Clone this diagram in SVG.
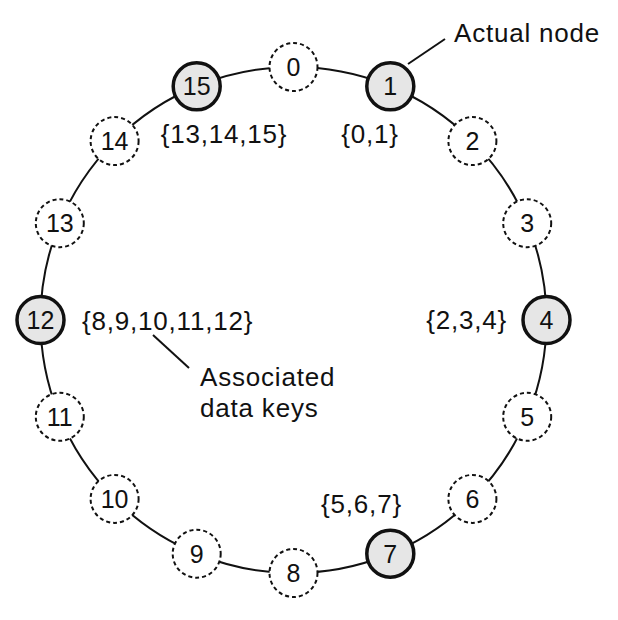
<svg xmlns="http://www.w3.org/2000/svg" width="618" height="620" viewBox="0 0 618 620">
<style>
.ring{fill:none;stroke:#111;stroke-width:2}
.lead{fill:none;stroke:#111;stroke-width:2}
.virt{fill:#fff;stroke:#111;stroke-width:2;stroke-dasharray:4 3}
.act{fill:#e6e6e6;stroke:#111;stroke-width:3.5}
.nl{font-family:"Liberation Sans",Arial,sans-serif;font-size:25px;fill:#111;text-anchor:middle}
.tl{font-family:"Liberation Sans",Arial,sans-serif;font-size:26px;fill:#111;letter-spacing:0.8px}
</style>
<rect width="618" height="620" fill="#fff"/>
<g id="connectors">
<circle class="ring" cx="293.5" cy="320" r="253"/>
<line class="lead" x1="408" y1="64" x2="445" y2="39"/>
<line class="lead" x1="153" y1="335" x2="189" y2="368"/>
</g>
<g id="node0"><circle class="virt" cx="293.5" cy="67" r="24"/><text class="nl" x="293.5" y="76">0</text></g>
<g id="node1"><circle class="act" cx="390.3" cy="86.3" r="23.5"/><text class="nl" x="390.3" y="95.3">1</text></g>
<g id="node2"><circle class="virt" cx="472.4" cy="141.1" r="24"/><text class="nl" x="472.4" y="150.1">2</text></g>
<g id="node3"><circle class="virt" cx="527.2" cy="223.2" r="24"/><text class="nl" x="527.2" y="232.2">3</text></g>
<g id="node4"><circle class="act" cx="546.5" cy="320" r="23.5"/><text class="nl" x="546.5" y="329">4</text></g>
<g id="node5"><circle class="virt" cx="527.2" cy="416.8" r="24"/><text class="nl" x="527.2" y="425.8">5</text></g>
<g id="node6"><circle class="virt" cx="472.4" cy="498.9" r="24"/><text class="nl" x="472.4" y="507.9">6</text></g>
<g id="node7"><circle class="act" cx="390.3" cy="553.7" r="23.5"/><text class="nl" x="390.3" y="562.7">7</text></g>
<g id="node8"><circle class="virt" cx="293.5" cy="573" r="24"/><text class="nl" x="293.5" y="582">8</text></g>
<g id="node9"><circle class="virt" cx="196.7" cy="553.7" r="24"/><text class="nl" x="196.7" y="562.7">9</text></g>
<g id="node10"><circle class="virt" cx="114.6" cy="498.9" r="24"/><text class="nl" x="114.6" y="507.9">10</text></g>
<g id="node11"><circle class="virt" cx="59.8" cy="416.8" r="24"/><text class="nl" x="59.8" y="425.8">11</text></g>
<g id="node12"><circle class="act" cx="40.5" cy="320" r="23.5"/><text class="nl" x="40.5" y="329">12</text></g>
<g id="node13"><circle class="virt" cx="59.8" cy="223.2" r="24"/><text class="nl" x="59.8" y="232.2">13</text></g>
<g id="node14"><circle class="virt" cx="114.6" cy="141.1" r="24"/><text class="nl" x="114.6" y="150.1">14</text></g>
<g id="node15"><circle class="act" cx="196.7" cy="86.3" r="23.5"/><text class="nl" x="196.7" y="95.3">15</text></g>
<g id="labels">
<text class="tl" x="454" y="42">Actual node</text>
<text class="tl" x="224" y="143" text-anchor="middle">{13,14,15}</text>
<text class="tl" x="370" y="143" text-anchor="middle">{0,1}</text>
<text class="tl" x="507" y="329" text-anchor="end">{2,3,4}</text>
<text class="tl" x="82" y="330">{8,9,10,11,12}</text>
<text class="tl" x="200" y="386">Associated</text>
<text class="tl" x="200" y="417">data keys</text>
<text class="tl" x="361.5" y="513" text-anchor="middle">{5,6,7}</text>
</g>
</svg>
